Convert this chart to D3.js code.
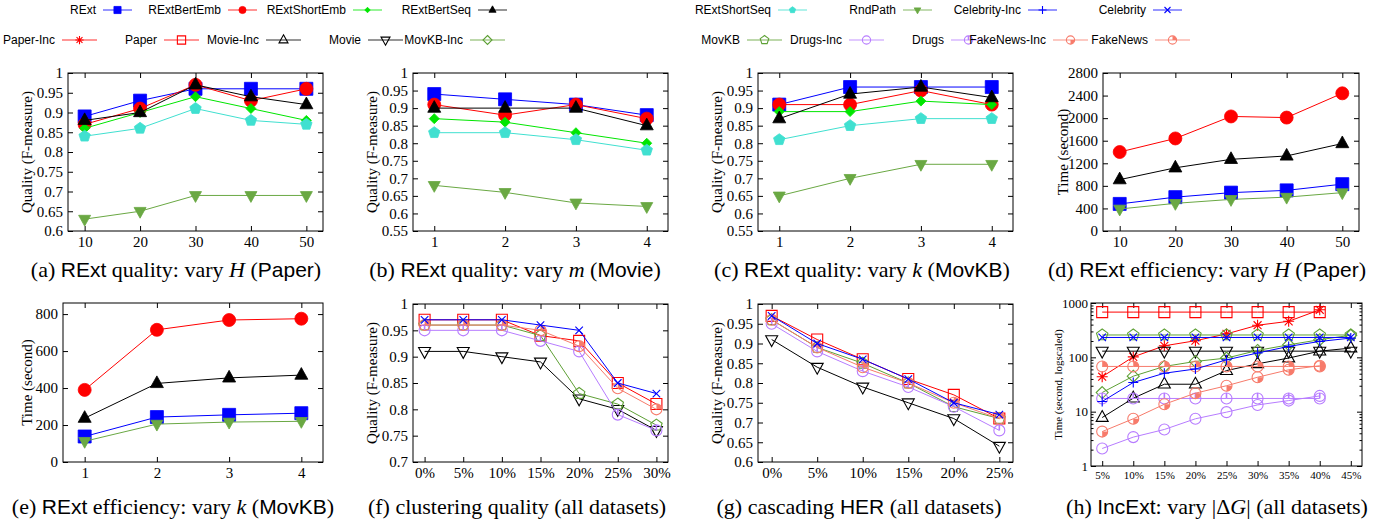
<!DOCTYPE html>
<html>
<head>
<meta charset="utf-8">
<script src="https://cdn.jsdelivr.net/npm/d3@7"></script>
<style>
  body { margin: 0; background: #fff; }
  svg { display: block; }
</style>
</head>
<body>
<svg id="fig"></svg>
<script>
const W = 1391, H = 524;

// ---- data ----
const methods = ['RExt', 'RExtBertEmb', 'RExtShortEmb', 'RExtBertSeq', 'RExtShortSeq', 'RndPath'];
const timeMethods = ['RExt', 'RExtBertEmb', 'RExtBertSeq', 'RndPath'];
const hValues = [10, 20, 30, 40, 50];
const mValues = [1, 2, 3, 4];
const kValues = [1, 2, 3, 4];

// rows follow `methods`
const qualityVaryH = [
  [0.89, 0.93, 0.96, 0.96, 0.96],
  [0.87, 0.91, 0.97, 0.93, 0.96],
  [0.86, 0.90, 0.94, 0.91, 0.88],
  [0.88, 0.90, 0.97, 0.94, 0.92],
  [0.84, 0.86, 0.91, 0.88, 0.87],
  [0.63, 0.65, 0.69, 0.69, 0.69]
];
const qualityVaryM = [
  [0.94, 0.925, 0.91, 0.88],
  [0.91, 0.88, 0.91, 0.87],
  [0.87, 0.86, 0.83, 0.80],
  [0.90, 0.90, 0.90, 0.85],
  [0.83, 0.83, 0.81, 0.78],
  [0.68, 0.66, 0.63, 0.62]
];
const qualityVaryK = [
  [0.91, 0.96, 0.96, 0.96],
  [0.91, 0.91, 0.95, 0.91],
  [0.89, 0.89, 0.92, 0.91],
  [0.87, 0.94, 0.96, 0.93],
  [0.81, 0.85, 0.87, 0.87],
  [0.65, 0.70, 0.74, 0.74]
];
// rows follow `timeMethods`
const timeVaryH = [
  [480, 600, 680, 720, 830],
  [1400, 1640, 2030, 2010, 2440],
  [910, 1120, 1270, 1330, 1550],
  [390, 490, 560, 600, 680]
];
const timeVaryK = [
  [138, 243, 255, 264],
  [390, 715, 768, 775],
  [237, 425, 455, 470],
  [112, 205, 216, 220]
];

const datasets = ['Paper', 'Movie', 'MovKB', 'Drugs', 'FakeNews', 'Celebrity'];
const noiseLevels = ['0%', '5%', '10%', '15%', '20%', '25%', '30%'];
const clusteringQuality = [
  [0.97, 0.97, 0.97, 0.94, 0.93, 0.85, 0.81],
  [0.91, 0.91, 0.90, 0.89, 0.82, 0.80, 0.76],
  [0.96, 0.96, 0.96, 0.94, 0.83, 0.81, 0.77],
  [0.95, 0.95, 0.95, 0.93, 0.91, 0.79, 0.76],
  [0.96, 0.96, 0.96, 0.95, 0.92, 0.84, 0.80],
  [0.97, 0.97, 0.97, 0.96, 0.95, 0.85, 0.83]
];
const cascadeLevels = ['0%', '5%', '10%', '15%', '20%', '25%'];
const cascadingQuality = [
  [0.97, 0.91, 0.86, 0.81, 0.77, 0.71],
  [0.91, 0.84, 0.79, 0.75, 0.71, 0.64],
  [0.96, 0.89, 0.85, 0.80, 0.74, 0.71],
  [0.95, 0.88, 0.83, 0.79, 0.74, 0.68],
  [0.96, 0.89, 0.84, 0.80, 0.75, 0.71],
  [0.97, 0.90, 0.86, 0.81, 0.75, 0.72]
];

const deltaLevels = ['5%', '10%', '15%', '20%', '25%', '30%', '35%', '40%', '45%'];
const incSeries = ['Paper-Inc', 'Paper', 'Movie-Inc', 'Movie', 'MovKB-Inc', 'MovKB',
                   'Drugs-Inc', 'Drugs', 'FakeNews-Inc', 'FakeNews', 'Celebrity-Inc', 'Celebrity'];
const incTime = [
  [44, 102, 163, 202, 270, 390, 460, 750],
  [680, 680, 680, 680, 680, 680, 680, 680],
  [7.8, 17.7, 32, 32, 57, 76, 97, 130, 148],
  [130, 130, 130, 130, 130, 130, 130, 130, 130],
  [22.5, 45, 68, 84, 97, 134, 170, 211, 255],
  [258, 258, 258, 258, 258, 258, 258, 258, 258],
  [2.1, 3.4, 4.7, 7.4, 9.8, 13.3, 16, 19.5],
  [17.5, 17.5, 17.5, 17.5, 17.5, 17.5, 17.5, 17.5],
  [4.3, 7.4, 13.7, 21.9, 30, 43, 59, 70],
  [68, 68, 68, 68, 68, 68, 68, 68],
  [15.4, 34.4, 51, 61, 90, 120, 159, 196, 226],
  [232, 232, 232, 232, 232, 232, 232, 232, 232]
];

const legendRow1 = ['RExt', 'RExtBertEmb', 'RExtShortEmb', 'RExtBertSeq', 'RExtShortSeq', 'RndPath', 'Celebrity-Inc', 'Celebrity'];
const legendRow2 = ['Paper-Inc', 'Paper', 'Movie-Inc', 'Movie', 'MovKB-Inc', 'MovKB', 'Drugs-Inc', 'Drugs', 'FakeNews-Inc', 'FakeNews'];

// ---- styles ----
const styles = {
  'RExt':          { color: '#0000ff', m: 'square',   fill: true, s: 13 },
  'RExtBertEmb':   { color: '#ff0000', m: 'circle',   fill: true, s: 13 },
  'RExtShortEmb':  { color: '#00e600', m: 'diamond',  fill: true, s: 10 },
  'RExtBertSeq':   { color: '#000000', m: 'triUp',    fill: true, s: 13 },
  'RExtShortSeq':  { color: '#40e0d0', m: 'pentagon', fill: true, s: 12 },
  'RndPath':       { color: '#6aa843', m: 'triDown',  fill: true, s: 12 },
  'Celebrity-Inc': { color: '#0000ff', m: 'plus',     s: 10 },
  'Celebrity':     { color: '#0000ff', m: 'cross',    s: 10 },
  'Paper-Inc':     { color: '#ff0000', m: 'asterisk', s: 11 },
  'Paper':         { color: '#ff0000', m: 'square',   s: 11 },
  'Movie-Inc':     { color: '#000000', m: 'triUp',    s: 12 },
  'Movie':         { color: '#000000', m: 'triDown',  s: 12 },
  'MovKB-Inc':     { color: '#5ea035', m: 'diamond',  s: 12 },
  'MovKB':         { color: '#5ea035', m: 'pentagon', s: 12 },
  'Drugs-Inc':     { color: '#b77cff', m: 'circle',   s: 11 },
  'Drugs':         { color: '#b77cff', m: 'circleBar', s: 11 },
  'FakeNews-Inc':  { color: '#f77b6b', m: 'circlePie', s: 11 },
  'FakeNews':      { color: '#f77b6b', m: 'circlePie2', s: 11 }
};

const SERIF = '"Liberation Serif", "Times New Roman", serif';
const SANS = '"Liberation Sans", Arial, sans-serif';

const svg = d3.select('#fig').attr('width', W).attr('height', H)
  .attr('viewBox', `0 0 ${W} ${H}`);

function shapePath(type, s) {
  const h = s / 2;
  const circ = r => `M${-r},0a${r},${r} 0 1,0 ${2 * r},0a${r},${r} 0 1,0 ${-2 * r},0Z`;
  switch (type) {
    case 'square': return `M${-h},${-h}h${s}v${s}h${-s}Z`;
    case 'circle': case 'circleBar': case 'circlePie': case 'circlePie2': return circ(h);
    case 'diamond': return `M0,${-h}L${h},0L0,${h}L${-h},0Z`;
    case 'triUp': return `M0,${-0.58 * s}L${h},${0.32 * s}L${-h},${0.32 * s}Z`;
    case 'triDown': return `M0,${0.58 * s}L${h},${-0.32 * s}L${-h},${-0.32 * s}Z`;
    case 'pentagon': {
      const pts = d3.range(5).map(k => {
        const a = -Math.PI / 2 + k * 2 * Math.PI / 5;
        return [h * Math.cos(a), h * Math.sin(a)];
      });
      return 'M' + pts.map(p => p.join(',')).join('L') + 'Z';
    }
    case 'plus': return `M${-h},0H${h}M0,${-h}V${h}`;
    case 'cross': { const c = h * 0.75; return `M${-c},${-c}L${c},${c}M${-c},${c}L${c},${-c}`; }
    case 'asterisk': { const c = h * 0.72; return `M${-h},0H${h}M0,${-h}V${h}M${-c},${-c}L${c},${c}M${-c},${c}L${c},${-c}`; }
  }
}

function drawMarker(g, name, cx, cy, scale) {
  const st = styles[name];
  const s = st.s * scale;
  const mg = g.append('g').attr('transform', `translate(${cx},${cy})`);
  mg.append('path')
    .attr('d', shapePath(st.m, s))
    .attr('fill', st.fill ? st.color : 'none')
    .attr('stroke', st.color)
    .attr('stroke-width', st.fill ? 0.8 : 1.1);
  const h = s / 2;
  if (st.m === 'circleBar') {
    mg.append('path').attr('d', `M0,${-h}V0`).attr('stroke', st.color).attr('stroke-width', 1.6);
  } else if (st.m === 'circlePie') {
    mg.append('path').attr('d', `M0,0V${h}A${h},${h} 0 0,0 ${h},0Z`).attr('fill', st.color);
  } else if (st.m === 'circlePie2') {
    mg.append('path').attr('d', `M0,0V${-h}A${h},${h} 0 0,1 ${h},0Z`).attr('fill', st.color);
  }
}

function styleAxis(sel, size) {
  sel.select('.domain').remove();
  sel.selectAll('line').attr('stroke', '#000').attr('stroke-width', 1);
  sel.selectAll('text').attr('font-family', SERIF).attr('font-size', size).attr('fill', '#000');
}

function drawPanel(p) {
  const g = svg.append('g');
  const x = p.x.range([p.left, p.right]);
  const y = p.y.range([p.bottom, p.top]);
  const fs = p.fontSize || 15;
  const tick = 5;

  if (p.minorY) {
    g.append('g').attr('transform', `translate(${p.left},0)`)
      .call(d3.axisLeft(y).tickValues(p.minorY).tickFormat('').tickSize(-2.5))
      .call(s => styleAxis(s, fs));
    g.append('g').attr('transform', `translate(${p.right},0)`)
      .call(d3.axisRight(y).tickValues(p.minorY).tickFormat('').tickSize(-2.5))
      .call(s => styleAxis(s, fs));
  }
  g.append('g').attr('transform', `translate(${p.left},0)`)
    .call(d3.axisLeft(y).tickValues(p.yTicks).tickFormat(p.yFormat).tickSize(-tick).tickPadding(p.yPad || 5))
    .call(s => styleAxis(s, fs));
  g.append('g').attr('transform', `translate(${p.right},0)`)
    .call(d3.axisRight(y).tickValues(p.yTicks).tickFormat('').tickSize(-tick))
    .call(s => styleAxis(s, fs));
  const xAxis = d3.axisBottom(x).tickValues(p.xTicks).tickSize(-tick).tickPadding(p.xPad || 5);
  if (p.xFormat) xAxis.tickFormat(p.xFormat);
  g.append('g').attr('transform', `translate(0,${p.bottom})`)
    .call(xAxis)
    .call(s => styleAxis(s, p.xFontSize || fs));
  g.append('g').attr('transform', `translate(0,${p.top})`)
    .call(d3.axisTop(x).tickValues(p.xTicks).tickFormat('').tickSize(-tick))
    .call(s => styleAxis(s, fs));

  g.append('rect')
    .attr('x', p.left).attr('y', p.top)
    .attr('width', p.right - p.left).attr('height', p.bottom - p.top)
    .attr('fill', 'none').attr('stroke', '#000').attr('stroke-width', 1);

  g.append('text')
    .attr('transform', `translate(${p.titleX},${(p.top + p.bottom) / 2}) rotate(-90)`)
    .attr('text-anchor', 'middle')
    .attr('dy', '0.35em')
    .attr('font-family', SERIF)
    .attr('font-size', p.titleSize || 15)
    .text(p.yTitle);

  p.names.forEach((name, si) => {
    const vals = p.values[si];
    const line = d3.line()
      .x((d, i) => x(p.xs[i]))
      .y(d => y(d));
    g.append('path')
      .datum(vals)
      .attr('d', line)
      .attr('fill', 'none')
      .attr('stroke', styles[name].color)
      .attr('stroke-width', 1);
    vals.forEach((v, i) => drawMarker(g, name, x(p.xs[i]), y(v), p.markerScale || 1));
  });
}

const fmt2 = d => String(+d.toFixed(2));
const fmtInt = d3.format('d');
const qTicks = (a, b) => d3.range(Math.round(a * 100), Math.round(b * 100) + 1, 5).map(v => v / 100);

// (a)
drawPanel({
  left: 68, right: 323, top: 73, bottom: 231,
  x: d3.scaleLinear().domain([7, 53]), y: d3.scaleLinear().domain([0.6, 1]),
  xTicks: hValues, xFormat: fmtInt, yTicks: qTicks(0.6, 1), yFormat: fmt2,
  xs: hValues, names: methods, values: qualityVaryH,
  yTitle: 'Quality (F-measure)', titleX: 27
});
// (b)
drawPanel({
  left: 413, right: 668, top: 73, bottom: 231,
  x: d3.scaleLinear().domain([0.7, 4.3]), y: d3.scaleLinear().domain([0.55, 1]),
  xTicks: mValues, xFormat: fmtInt, yTicks: qTicks(0.55, 1), yFormat: fmt2,
  xs: mValues, names: methods, values: qualityVaryM,
  yTitle: 'Quality (F-measure)', titleX: 372
});
// (c)
drawPanel({
  left: 758, right: 1013, top: 73, bottom: 231,
  x: d3.scaleLinear().domain([0.7, 4.3]), y: d3.scaleLinear().domain([0.55, 1]),
  xTicks: kValues, xFormat: fmtInt, yTicks: qTicks(0.55, 1), yFormat: fmt2,
  xs: kValues, names: methods, values: qualityVaryK,
  yTitle: 'Quality (F-measure)', titleX: 717
});
// (d)
drawPanel({
  left: 1103, right: 1359, top: 73, bottom: 231,
  x: d3.scaleLinear().domain([7, 53]), y: d3.scaleLinear().domain([0, 2800]),
  xTicks: hValues, xFormat: fmtInt, yTicks: d3.range(0, 2801, 400), yFormat: fmtInt,
  xs: hValues, names: timeMethods, values: timeVaryH,
  yTitle: 'Time (second)', titleX: 1063
});
// (e)
drawPanel({
  left: 63, right: 323, top: 303, bottom: 462,
  x: d3.scaleLinear().domain([0.7, 4.3]), y: d3.scaleLinear().domain([0, 860]),
  xTicks: kValues, xFormat: fmtInt, yTicks: d3.range(0, 801, 200), yFormat: fmtInt,
  xs: kValues, names: timeMethods, values: timeVaryK,
  yTitle: 'Time (second)', titleX: 27
});
// (f)
drawPanel({
  left: 413, right: 668, top: 304, bottom: 462,
  x: d3.scalePoint().domain(noiseLevels).padding(0.3), y: d3.scaleLinear().domain([0.7, 1]),
  xTicks: noiseLevels, yTicks: qTicks(0.7, 1), yFormat: fmt2,
  xs: noiseLevels, names: datasets, values: clusteringQuality,
  yTitle: 'Quality (F-measure)', titleX: 372
});
// (g)
drawPanel({
  left: 758, right: 1013, top: 304, bottom: 462,
  x: d3.scalePoint().domain(cascadeLevels).padding(0.3), y: d3.scaleLinear().domain([0.6, 1]),
  xTicks: cascadeLevels, yTicks: qTicks(0.6, 1), yFormat: fmt2,
  xs: cascadeLevels, names: datasets, values: cascadingQuality,
  yTitle: 'Quality (F-measure)', titleX: 717
});
// (h)
const minorLog = [];
[1, 10, 100].forEach(b => d3.range(2, 10).forEach(k => minorLog.push(b * k)));
drawPanel({
  left: 1091, right: 1362, top: 303, bottom: 466,
  x: d3.scalePoint().domain(deltaLevels).padding(0.36), y: d3.scaleLog().domain([1, 1000]),
  xTicks: deltaLevels, yTicks: [1, 10, 100, 1000], yFormat: fmtInt, minorY: minorLog,
  xs: deltaLevels, names: incSeries, values: incTime,
  fontSize: 13, xFontSize: 11, yPad: 3,
  yTitle: 'Time (second, logscaled)', titleX: 1058, titleSize: 11
});

// ---- legend ----
const leg = svg.append('g');
function legendEntry(name, lineEnd, len, cy, scale) {
  const st = styles[name];
  leg.append('text')
    .attr('x', lineEnd - len - 7).attr('y', cy).attr('dy', '0.35em')
    .attr('text-anchor', 'end')
    .attr('font-family', SANS).attr('font-size', 12)
    .text(name);
  leg.append('line')
    .attr('x1', lineEnd - len).attr('x2', lineEnd).attr('y1', cy).attr('y2', cy)
    .attr('stroke', st.color).attr('stroke-width', 1.5).attr('stroke-opacity', 0.55);
  drawMarker(leg, name, lineEnd - len / 2, cy, scale);
}
legendRow1.forEach((name, i) => {
  const end = i < 4 ? 132 + 125 * i : 807 + 125 * (i - 4);
  legendEntry(name, end, 29, 10, i < 6 ? 0.55 : 0.8);
});
legendRow2.forEach((name, i) => {
  const end = i < 5 ? 97 + 102 * i : 782 + 102 * (i - 5);
  legendEntry(name, end, 35, 40, 0.75);
});

// ---- captions ----
const captions = [
  { cx: 176, y: 277, parts: [['(a) ', 'serif'], ['RExt', 'sans'], [' quality: vary ', 'serif'], ['H', 'italic'], [' (', 'serif'], ['Paper', 'sans'], [')', 'serif']] },
  { cx: 515, y: 277, parts: [['(b) ', 'serif'], ['RExt', 'sans'], [' quality: vary ', 'serif'], ['m', 'italic'], [' (', 'serif'], ['Movie', 'sans'], [')', 'serif']] },
  { cx: 862, y: 277, parts: [['(c) ', 'serif'], ['RExt', 'sans'], [' quality: vary ', 'serif'], ['k', 'italic'], [' (', 'serif'], ['MovKB', 'sans'], [')', 'serif']] },
  { cx: 1207, y: 277, parts: [['(d) ', 'serif'], ['RExt', 'sans'], [' efficiency: vary ', 'serif'], ['H', 'italic'], [' (', 'serif'], ['Paper', 'sans'], [')', 'serif']] },
  { cx: 173, y: 514, parts: [['(e) ', 'serif'], ['RExt', 'sans'], [' efficiency: vary ', 'serif'], ['k', 'italic'], [' (', 'serif'], ['MovKB', 'sans'], [')', 'serif']] },
  { cx: 517, y: 514, parts: [['(f) clustering quality (all datasets)', 'serif']] },
  { cx: 859, y: 514, parts: [['(g) cascading ', 'serif'], ['HER', 'sans'], [' (all datasets)', 'serif']] },
  { cx: 1217, y: 514, parts: [['(h) ', 'serif'], ['IncExt', 'sans'], [': vary |Δ', 'serif'], ['G', 'italic'], ['| (all datasets)', 'serif']] }
];
captions.forEach(c => {
  const t = svg.append('text')
    .attr('x', c.cx).attr('y', c.y)
    .attr('text-anchor', 'middle')
    .attr('font-size', 22)
    .attr('xml:space', 'preserve');
  c.parts.forEach(([txt, kind]) => {
    t.append('tspan')
      .attr('font-family', kind === 'sans' ? SANS : SERIF)
      .attr('font-style', kind === 'italic' ? 'italic' : 'normal')
      .attr('font-size', kind === 'sans' ? 21 : 22)
      .text(txt);
  });
});
</script>
</body>
</html>
